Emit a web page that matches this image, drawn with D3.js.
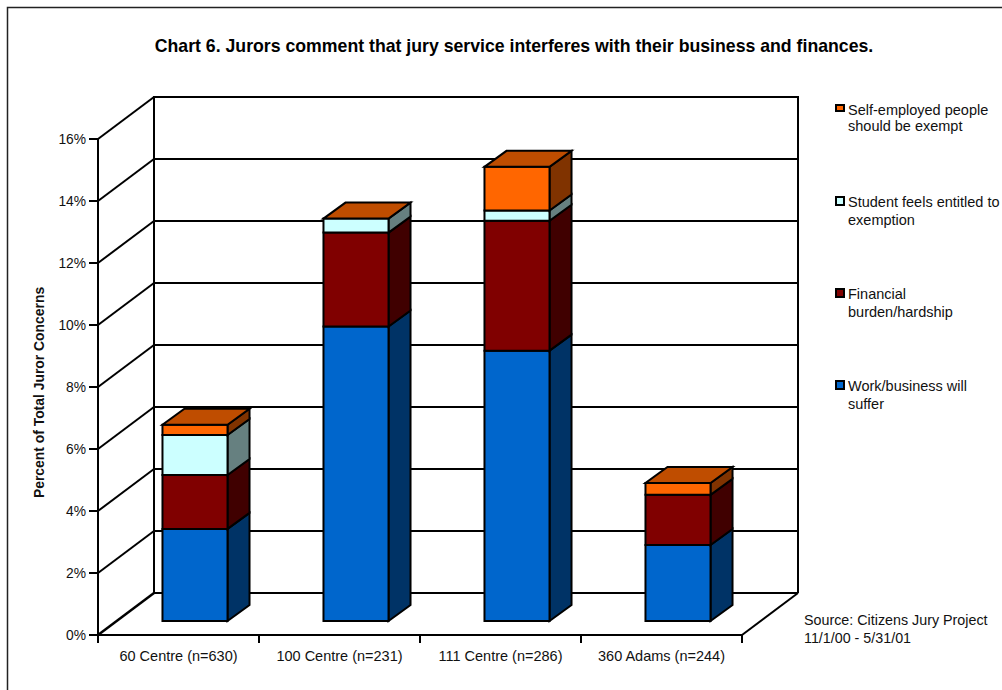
<!DOCTYPE html>
<html>
<head>
<meta charset="utf-8">
<script src="https://cdn.jsdelivr.net/npm/d3@7/dist/d3.min.js"></script>
<style>
html, body { margin: 0; padding: 0; background: #fff; }
svg { display: block; }
text { font-family: "Liberation Sans", Arial, sans-serif; fill: #111; }
</style>
</head>
<body>
<script>
// Juror concerns per courthouse, in percent of total concerns
const categories = ["60 Centre (n=630)", "100 Centre (n=231)", "111 Centre (n=286)", "360 Adams (n=244)"];
const workBusiness = [2.97, 9.5, 8.72, 2.45];
const financialBurden = [1.74, 3.03, 4.19, 1.62];
const studentExempt = [1.29, 0.45, 0.33, 0];
const selfEmployed = [0.33, 0, 1.41, 0.38];
const tickValues = [0, 2, 4, 6, 8, 10, 12, 14, 16];

const seriesNames = ["Work/business will suffer", "Financial burden/hardship", "Student feels entitled to exemption", "Self-employed people should be exempt"];
const seriesValues = [workBusiness, financialBurden, studentExempt, selfEmployed];
const frontColors = ["#0066cc", "#800000", "#ccffff", "#ff6600"];
const sideColors = ["#003366", "#400000", "#668080", "#803300"];
const topColor = "#bf4d00";

const width = 1002, height = 690;
const svg = d3.select("body").append("svg").attr("width", width).attr("height", height);

// Oblique projection: the floor recedes up and to the right
const wallDepth = { x: 56, y: -42 };
const barInset = { x: 16.5, y: 14 };
const barDepth = { x: 22, y: -16 };

const y = d3.scaleLinear().domain([0, 16]).range([635, 139]);
const x = d3.scaleBand().domain(categories).range([98, 742]).paddingInner(0.596).paddingOuter(0.298);
const edges = d3.range(categories.length + 1).map(i => 98 + i * x.step());

const ink = "#000";
const stroke = 2;
const line = (g, x1, y1, x2, y2, w = stroke) => g.append("line")
  .attr("x1", x1).attr("y1", y1).attr("x2", x2).attr("y2", y2)
  .attr("stroke", ink).attr("stroke-width", w);

// Outer frame, running past the right and bottom edges of the page
svg.append("rect").attr("x", 7.5).attr("y", 7.5).attr("width", 1100).attr("height", 800)
  .attr("fill", "#fff").attr("stroke", "#222").attr("stroke-width", 1.5);

// Title
svg.append("text").attr("x", 514).attr("y", 52).attr("text-anchor", "middle")
  .attr("font-size", 17.7).attr("font-weight", "bold").style("fill", "#000")
  .text("Chart 6. Jurors comment that jury service interferes with their business and finances.");

// Walls, gridlines and floor
const walls = svg.append("g");
tickValues.forEach(v => {
  const py = y(v);
  line(walls, 98, py, 98 + wallDepth.x, py + wallDepth.y, v === 0 ? 2.5 : stroke);
  line(walls, 98 + wallDepth.x, py + wallDepth.y, 742 + wallDepth.x, py + wallDepth.y);
  line(walls, 89, py, 98, py);
  walls.append("text").attr("x", 86).attr("y", py + 5).attr("text-anchor", "end")
    .attr("font-size", 13.8).text(v + "%");
});
line(walls, 98, y(0) + 1, 98, y(16) - 1);
line(walls, 98 + wallDepth.x, y(0) + wallDepth.y, 98 + wallDepth.x, y(16) + wallDepth.y - 1);
line(walls, 742 + wallDepth.x, y(0) + wallDepth.y, 742 + wallDepth.x, y(16) + wallDepth.y - 1);
line(walls, 98, y(0), 742, y(0));
line(walls, 742, y(0), 742 + wallDepth.x, y(0) + wallDepth.y);
edges.forEach(e => line(walls, e, y(0), e, y(0) + 8));

// Category labels
categories.forEach(c => {
  svg.append("text").attr("x", x(c) + x.bandwidth() / 2).attr("y", 661)
    .attr("text-anchor", "middle").attr("font-size", 14.5).text(c);
});

// Stacked 3D columns, one per category
const stackRows = categories.map((c, i) => {
  const row = { category: c };
  seriesNames.forEach((s, k) => { row[s] = seriesValues[k][i]; });
  return row;
});
const stacked = d3.stack().keys(seriesNames)(stackRows);
const barBase = y(0) - barInset.y;
const yBar = v => barBase - (y(0) - y(v));
const poly = (g, pts, fill) => g.append("polygon")
  .attr("points", pts.map(p => p.join(",")).join(" "))
  .attr("fill", fill).attr("stroke", ink).attr("stroke-width", stroke).attr("stroke-linejoin", "miter");

const bars = svg.append("g");
categories.forEach((c, i) => {
  const left = x(c) + barInset.x, right = left + x.bandwidth();
  stacked.forEach((layer, k) => {
    const [v0, v1] = layer[i];
    const y0 = yBar(v0), y1 = yBar(v1);
    if (v1 === v0) return;
    poly(bars, [[right, y0], [right + barDepth.x, y0 + barDepth.y], [right + barDepth.x, y1 + barDepth.y], [right, y1]], sideColors[k]);
    poly(bars, [[left, y0], [right, y0], [right, y1], [left, y1]], frontColors[k]);
  });
  const top = yBar(stacked[stacked.length - 1][i][1]);
  poly(bars, [[left, top], [right, top], [right + barDepth.x, top + barDepth.y], [left + barDepth.x, top + barDepth.y]], topColor);
});

// Vertical axis title
svg.append("text").attr("transform", "translate(44,392.5) rotate(-90)")
  .attr("text-anchor", "middle").attr("font-size", 13.9).attr("font-weight", "bold")
  .text("Percent of Total Juror Concerns");

// Legend, listed from the top of the stack downward
const legendLines = [
  ["Self-employed people", "should be exempt"],
  ["Student feels entitled to", "exemption"],
  ["Financial", "burden/hardship"],
  ["Work/business will", "suffer"]
];
const legendTop = d3.scalePoint().domain(d3.range(4)).range([105, 381]);
legendLines.forEach((rows, i) => {
  const top = legendTop(i);
  svg.append("rect").attr("x", 836).attr("y", top).attr("width", 8).attr("height", i === 0 ? 6 : 8)
    .attr("fill", frontColors[3 - i]).attr("stroke", ink).attr("stroke-width", 2);
  const lead = i === 0 ? 16 : 18;
  rows.forEach((t, r) => {
    svg.append("text").attr("x", 848).attr("y", top + 10 + r * lead).attr("font-size", 14.5).text(t);
  });
});

// Source note
["Source: Citizens Jury Project", "11/1/00 - 5/31/01"].forEach((t, r) => {
  svg.append("text").attr("x", 804).attr("y", 625 + r * 18).attr("font-size", 14.3).text(t);
});
</script>
</body>
</html>
